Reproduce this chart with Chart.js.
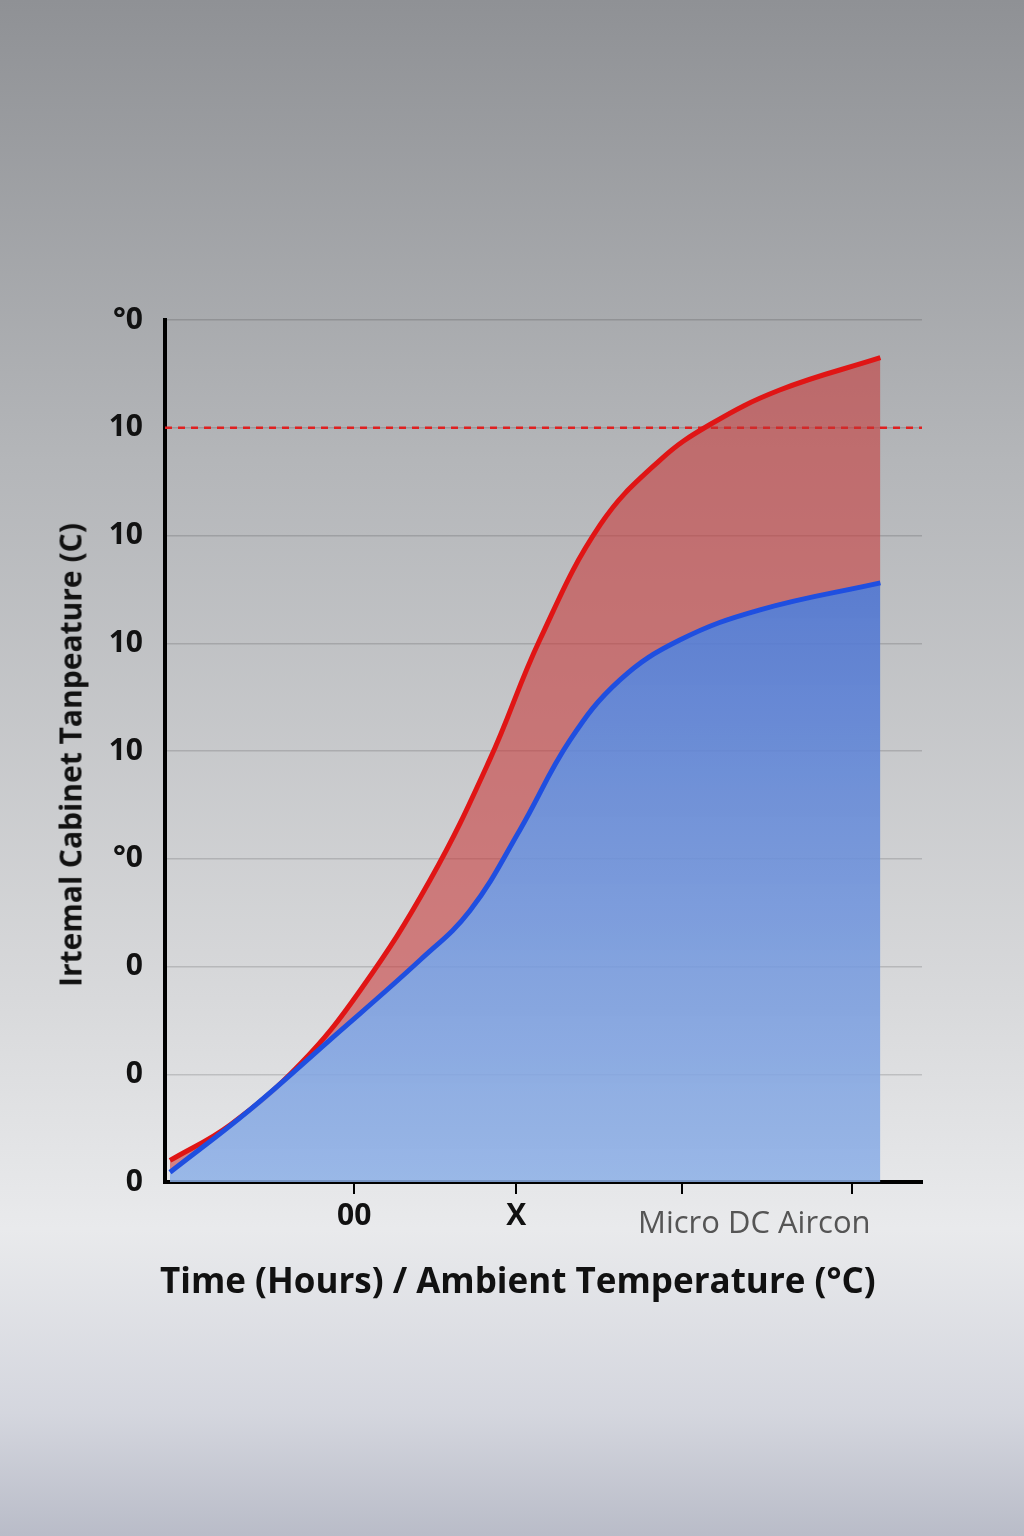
<!DOCTYPE html>
<html>
<head>
<meta charset="utf-8">
<script src="https://cdn.jsdelivr.net/npm/chart.js@4/dist/chart.umd.min.js"></script>
<style>
  html, body { margin: 0; padding: 0; }
  body { width: 1024px; height: 1536px; position: relative; overflow: hidden;
    background: linear-gradient(180deg, #8f9195 0%, #b4b6b9 30%, #d8d9db 65%, #e9eaec 80%, #d4d6de 92%, #b9bcc8 100%);
    font-family: "Open Sans", "DejaVu Sans", sans-serif; }
  #wrap { position: absolute; left: 0; top: 0; width: 1024px; height: 1536px; }
  .lbl { position: absolute; white-space: nowrap; font-weight: 700; color: #111; }
</style>
</head>
<body>
<div id="wrap"><canvas id="chart" width="1024" height="1536"></canvas></div>
<div class="lbl" style="left:160px; top:1256px; font-size:35px;">Time (Hours) / Ambient Temperature (°C)</div>
<div class="lbl" style="left:638px; top:1200px; font-size:31px; font-weight:400; color:#555;">Micro DC Aircon</div>
<div class="lbl" style="left:70px; top:755px; font-size:30px; transform: translate(-50%, -50%) rotate(-90deg);">Irtemal Cabinet Tanpeature (C)</div>
<script>
const yTickLabels = ['0', '0', '0', '°0', '10', '10', '10', '10', '°0'];
const xTickValues = [25, 46.4, 68.3, 90.8];
const xTickLabels = ['00', 'X', '', ''];
const limitLevel = 7;

const redX = [0.66, 8.6, 17.8, 25.8, 35, 42.9, 49.5, 57.5, 65.4, 72, 81.2, 94.5];
const redY = [0.2, 0.53, 1.09, 1.78, 2.8, 3.92, 5.03, 6.1, 6.7, 7.03, 7.35, 7.65];
const blueX = [0.66, 11.2, 21.8, 33.7, 40.3, 46.9, 53.5, 60.1, 68, 78.6, 94.5];
const blueY = [0.09, 0.67, 1.32, 2.06, 2.52, 3.27, 4.1, 4.66, 5.03, 5.31, 5.56];

const pts = (xs, ys) => xs.map((x, i) => ({ x, y: ys[i] }));

function blueGrad(ctx) {
  const a = ctx.chart.chartArea;
  if (!a) return 'rgba(70,110,210,0.8)';
  const g = ctx.chart.ctx.createLinearGradient(0, a.top, 0, a.bottom);
  g.addColorStop(0, 'rgba(50,90,200,0.9)');
  g.addColorStop(1, 'rgba(140,175,230,0.85)');
  return g;
}

new Chart(document.getElementById('chart'), {
  type: 'line',
  data: {
    datasets: [
      { data: pts(blueX, blueY), borderColor: '#1f4fe0', borderWidth: 5, pointRadius: 0, tension: 0.4,
        fill: 'origin', backgroundColor: blueGrad },
      { data: pts(redX, redY), borderColor: '#e01515', borderWidth: 5, pointRadius: 0, tension: 0.4,
        fill: '-1', backgroundColor: 'rgba(200,50,50,0.55)' },
      { data: [{ x: 0, y: limitLevel }, { x: 100, y: limitLevel }], borderColor: '#e02020', borderWidth: 2.5,
        borderDash: [7, 6], pointRadius: 0, fill: false }
    ]
  },
  options: {
    responsive: false, animation: false,
    layout: { padding: { left: 0, top: 320, right: 102, bottom: 0 } },
    plugins: { legend: { display: false }, tooltip: { enabled: false } },
    scales: {
      x: {
        type: 'linear', min: 0, max: 100,
        afterFit: (s) => { s.height = 354; },
        afterBuildTicks: (s) => { s.ticks = xTickValues.map((v) => ({ value: v })); },
        border: { color: '#000', width: 4 },
        grid: { drawOnChartArea: false, drawTicks: true, tickLength: 12, color: '#000', lineWidth: 2 },
        ticks: { autoSkip: false, maxRotation: 0, padding: 4, color: '#111', font: { size: 30, weight: 'bold', family: 'Open Sans' },
          callback: (v, i) => xTickLabels[i] }
      },
      y: {
        min: 0, max: 8,
        afterFit: (s) => { s.width = 165; },
        border: { color: '#000', width: 4 },
        grid: { color: 'rgba(0,0,0,0.14)', lineWidth: 1.5, drawTicks: false },
        ticks: { stepSize: 1, padding: 22, color: '#111', font: { size: 30, weight: 'bold', family: 'Open Sans' },
          callback: (v) => yTickLabels[v] }
      }
    }
  }
});
</script>
</body>
</html>
